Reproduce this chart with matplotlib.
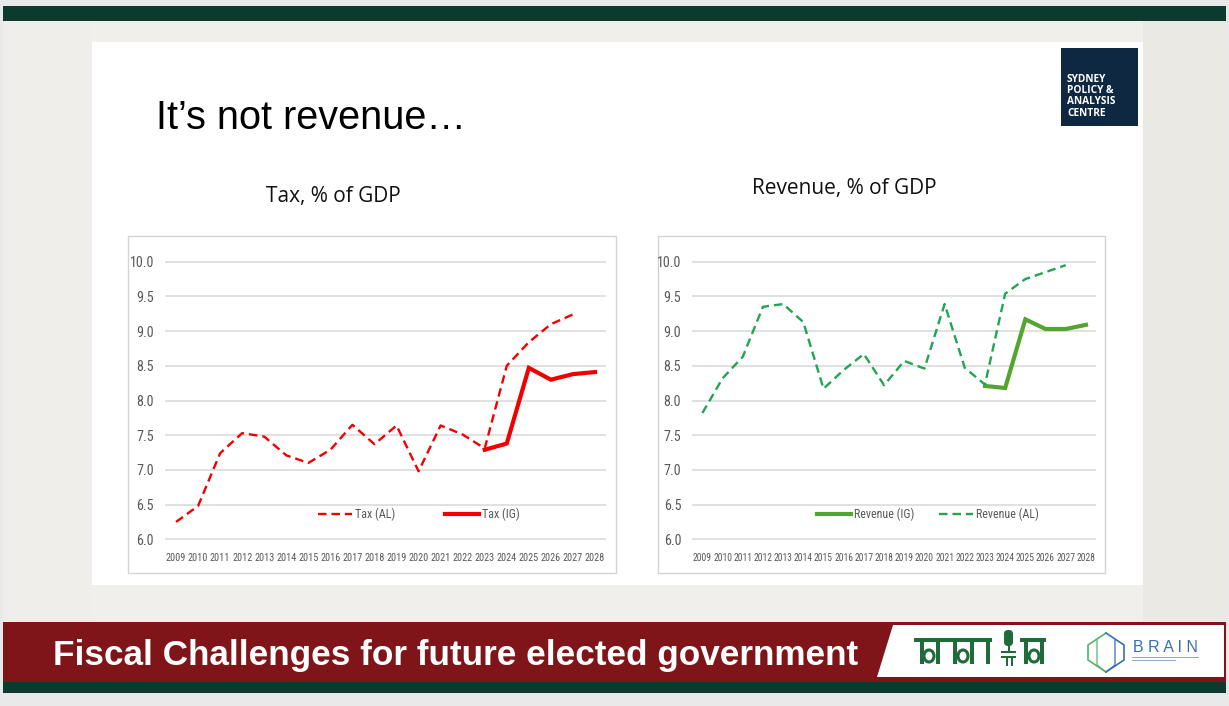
import numpy as np
import matplotlib
matplotlib.use("Agg")
import matplotlib.pyplot as plt
from matplotlib.patches import Rectangle, Polygon, FancyBboxPatch, Ellipse
from matplotlib.legend import Legend
from matplotlib import font_manager as fm
from matplotlib.font_manager import FontProperties

nan = np.nan

# ---------------- data ----------------
years = [str(y) for y in range(2009, 2029)]
tax_al = [6.25, 6.48, 7.24, 7.53, 7.48, 7.21, 7.10, 7.29, 7.65, 7.37,
          7.64, 6.98, 7.64, 7.51, 7.31, 8.50, 8.84, 9.10, 9.24, nan]
tax_ig = [nan] * 14 + [7.29, 7.38, 8.47, 8.30, 8.38, 8.41]
rev_al = [7.82, 8.32, 8.63, 9.35, 9.39, 9.13, 8.17, 8.44, 8.67, 8.22,
          8.57, 8.46, 9.39, 8.47, 8.23, 9.54, 9.75, 9.85, 9.95, nan]
rev_ig = [nan] * 14 + [8.21, 8.18, 9.17, 9.03, 9.03, 9.09]
y_ticks = [6.0, 6.5, 7.0, 7.5, 8.0, 8.5, 9.0, 9.5, 10.0]

slide_title = "It\u2019s not revenue\u2026"
left_title = "Tax, % of GDP"
right_title = "Revenue, % of GDP"
banner_text = "Fiscal Challenges for future elected government"
logo_lines = ["SYDNEY", "POLICY &", "ANALYSIS", "CENTRE"]

# ---------------- pick a narrow font if one is installed ----------------
entries = fm.fontManager.ttflist
names = {f.name for f in entries}
narrow_fp = None
for cand in ["Liberation Sans Narrow", "Arial Narrow", "Roboto Condensed",
             "Open Sans Condensed", "DejaVu Sans Condensed"]:
    if cand in names:
        narrow_fp = FontProperties(family=[cand, "DejaVu Sans"])
        break
if narrow_fp is None:
    cond = [f for f in entries if str(f.stretch) in ("condensed", "semi-condensed")
            and f.style == "normal"]
    if cond:
        narrow_fp = FontProperties(family=[cond[0].name, "DejaVu Sans"],
                                   stretch=cond[0].stretch)
    else:
        narrow_fp = FontProperties(family=["Liberation Sans", "DejaVu Sans"])

# ---------------- figure ----------------
W, H = 1229, 706
fig = plt.figure(figsize=(W / 100, H / 100), dpi=100)
fig.patch.set_facecolor("#e9e9e9")
renderer = fig.canvas.get_renderer()


def fit_size(sample, target_px, base=10.0):
    t = fig.text(0, 0, sample, fontproperties=narrow_fp, size=base)
    w = t.get_window_extent(renderer).width
    t.remove()
    return base * target_px / w


YEAR_SIZE = min(8.5, fit_size("2009", 20.0))
YEAR_SIZE_R = min(8.2, fit_size("2009", 18.8))
YTICK_SIZE = min(10.5, fit_size("10.0", 24.0))
LEG_SIZE = min(9.5, fit_size("Tax (AL)", 40.0))

bg = fig.add_axes([0, 0, 1, 1])
bg.set_xlim(0, W)
bg.set_ylim(H, 0)
bg.axis("off")


def rect(x0, y0, x1, y1, **kw):
    bg.add_patch(Rectangle((x0, y0), x1 - x0, y1 - y0, **kw))


# slide background (faded photo approximated)
rect(3, 6, 1226, 693, facecolor="#f1efec", edgecolor="none")
rect(1143, 21, 1226, 622, facecolor="#ebe9e4", edgecolor="none")
rect(3, 21, 92, 622, facecolor="#efeeeb", edgecolor="none")
# top dark-green bar
rect(3, 6, 1226, 21, facecolor="#0b3b2f", edgecolor="none")
# white content panel
rect(92, 42, 1143, 585, facecolor="white", edgecolor="none")
# chart frames
rect(128, 236, 616, 573, facecolor="white", edgecolor="#d4d4d4", lw=1.0)
rect(658, 236, 1105, 573, facecolor="white", edgecolor="#d4d4d4", lw=1.0)
# bottom banner
rect(3, 622, 1226, 682, facecolor="#7f1518", edgecolor="none")
rect(3, 682, 1226, 693, facecolor="#0b3a30", edgecolor="none")
bg.add_patch(Polygon([(893, 625), (1224, 625), (1224, 677), (877, 677)],
                     closed=True, facecolor="white", edgecolor="none"))

# logo box
rect(1061, 48, 1138, 126, facecolor="#0e2841", edgecolor="none")
for i, t in enumerate(logo_lines):
    bg.text(1067, 79 + i * 11.4, t, color="white", fontsize=7.3,
            fontweight="bold", family=["Open Sans", "DejaVu Sans"],
            va="center", ha="left")

# titles
bg.text(156, 129, slide_title, fontsize=28.5, color="black",
        family=["Liberation Sans", "DejaVu Sans"], va="baseline", ha="left")
bg.text(333, 196.5, left_title, fontsize=15, color="#111111",
        family=["Open Sans", "DejaVu Sans"], va="center", ha="center")
bg.text(844, 188.5, right_title, fontsize=15, color="#111111",
        family=["Open Sans", "DejaVu Sans"], va="center", ha="center")
bg.text(53, 665, banner_text, fontsize=25.3, color="white", fontweight="bold",
        family=["Liberation Sans", "DejaVu Sans"], va="baseline", ha="left")

# first partner logo (graphic approximation: blocky strokes + microphone)
LG = "#1f6b3a"
rect(914, 638, 992, 642, facecolor=LG, edgecolor="none")
rect(1020, 638, 1046, 642, facecolor=LG, edgecolor="none")
for sx in [922, 938, 955, 972, 988, 1026, 1042]:
    rect(sx - 2, 642, sx + 2, 664, facecolor=LG, edgecolor="none")
for cx in [929, 963, 1034]:
    bg.add_patch(Ellipse((cx, 656), 10, 12, facecolor="none", edgecolor=LG, lw=2.2))
bg.add_patch(FancyBboxPatch((1004, 630), 9, 16, boxstyle="round,pad=0,rounding_size=4",
                            facecolor=LG, edgecolor="none"))
bg.plot([1008.5, 1008.5], [646, 652], color=LG, lw=1.5)
bg.plot([1002, 1015], [652, 652], color=LG, lw=1.5)
rect(1001, 656, 1016, 658, facecolor=LG, edgecolor="none")
rect(1006, 658, 1008, 666, facecolor=LG, edgecolor="none")
rect(1011, 658, 1013, 666, facecolor=LG, edgecolor="none")

# BRAIN logo (approximation)
bg.plot([1106, 1088, 1088, 1106], [633, 645, 660, 672], color="#58b36a", lw=1.2)
bg.plot([1106, 1124, 1124, 1106], [633, 645, 660, 672], color="#3a6fb5", lw=1.2)
bg.plot([1097, 1097, 1106], [640, 665, 672], color="#58b36a", lw=0.9)
bg.plot([1115, 1115, 1106], [640, 665, 672], color="#3a6fb5", lw=0.9)
bg.text(1165, 647, "B R A I N", fontsize=11.5, color="#3a6fb5",
        family=["Liberation Sans", "DejaVu Sans"], va="center", ha="center")
bg.plot([1132, 1198], [657, 657], color="#7f98c4", lw=0.6)
bg.plot([1132, 1175], [660, 660], color="#7f98c4", lw=0.6)

# ---------------- charts ----------------
PX_PER_UNIT = (539.3 - 261.7) / 4.0
PAD = 0.06


def chart_axes(x0, x1, year_size):
    top = 261.7 - PAD * PX_PER_UNIT
    bot = 539.3 + PAD * PX_PER_UNIT
    ax = fig.add_axes([x0 / W, 1 - bot / H, (x1 - x0) / W, (bot - top) / H])
    ax.set_facecolor("none")
    ax.set_xlim(-0.5, len(years) - 0.5)
    ax.set_ylim(6 - PAD, 10 + PAD)
    for s in ax.spines.values():
        s.set_visible(False)
    ax.set_yticks(y_ticks)
    ax.set_yticklabels([f"{v:.1f}" for v in y_ticks])
    ax.set_xticks(range(len(years)))
    ax.set_xticklabels(years)
    ax.tick_params(length=0)
    ax.tick_params(axis="y", pad=8)
    ax.tick_params(axis="x", pad=7)
    for lab in ax.get_yticklabels():
        lab.set_fontproperties(narrow_fp)
        lab.set_size(YTICK_SIZE)
        lab.set_color("#595959")
    for lab in ax.get_xticklabels():
        lab.set_fontproperties(narrow_fp)
        lab.set_size(year_size)
        lab.set_color("#595959")
    ax.grid(axis="y", color="#d9d9d9", lw=1.1)
    ax.set_axisbelow(True)
    return ax


def place_legend(ax, handle, label, x_start, y):
    fsz_px = LEG_SIZE * 100 / 72
    prop = narrow_fp.copy()
    prop.set_size(LEG_SIZE)
    leg = Legend(ax, [handle], [label], loc="center left",
                 bbox_to_anchor=(x_start, y), bbox_transform=bg.transData,
                 frameon=False, borderpad=0, borderaxespad=0,
                 handlelength=34.0 / fsz_px, handletextpad=3.0 / fsz_px,
                 prop=prop, labelcolor="#595959")
    ax.add_artist(leg)


x = np.arange(len(years))
RED = "#f20000"
GREEN_SOLID = "#52a62f"
GREEN_DASH = "#22a550"

ax1 = chart_axes(165, 606, YEAR_SIZE)
l_al, = ax1.plot(x, tax_al, color=RED, lw=1.7, dashes=(3.6, 2.1))
l_ig, = ax1.plot(x, tax_ig, color=RED, lw=3.0, solid_joinstyle="miter")
place_legend(ax1, l_al, "Tax (AL)", 318, 514)
place_legend(ax1, l_ig, "Tax (IG)", 445, 514)

ax2 = chart_axes(692.3, 1096, YEAR_SIZE_R)
r_ig, = ax2.plot(x, rev_ig, color=GREEN_SOLID, lw=3.0, solid_joinstyle="miter")
r_al, = ax2.plot(x, rev_al, color=GREEN_DASH, lw=1.7, dashes=(3.6, 2.1))
place_legend(ax2, r_ig, "Revenue (IG)", 817, 514)
place_legend(ax2, r_al, "Revenue (AL)", 939, 514)

fig.savefig("out.png", dpi=100, facecolor=fig.get_facecolor())
